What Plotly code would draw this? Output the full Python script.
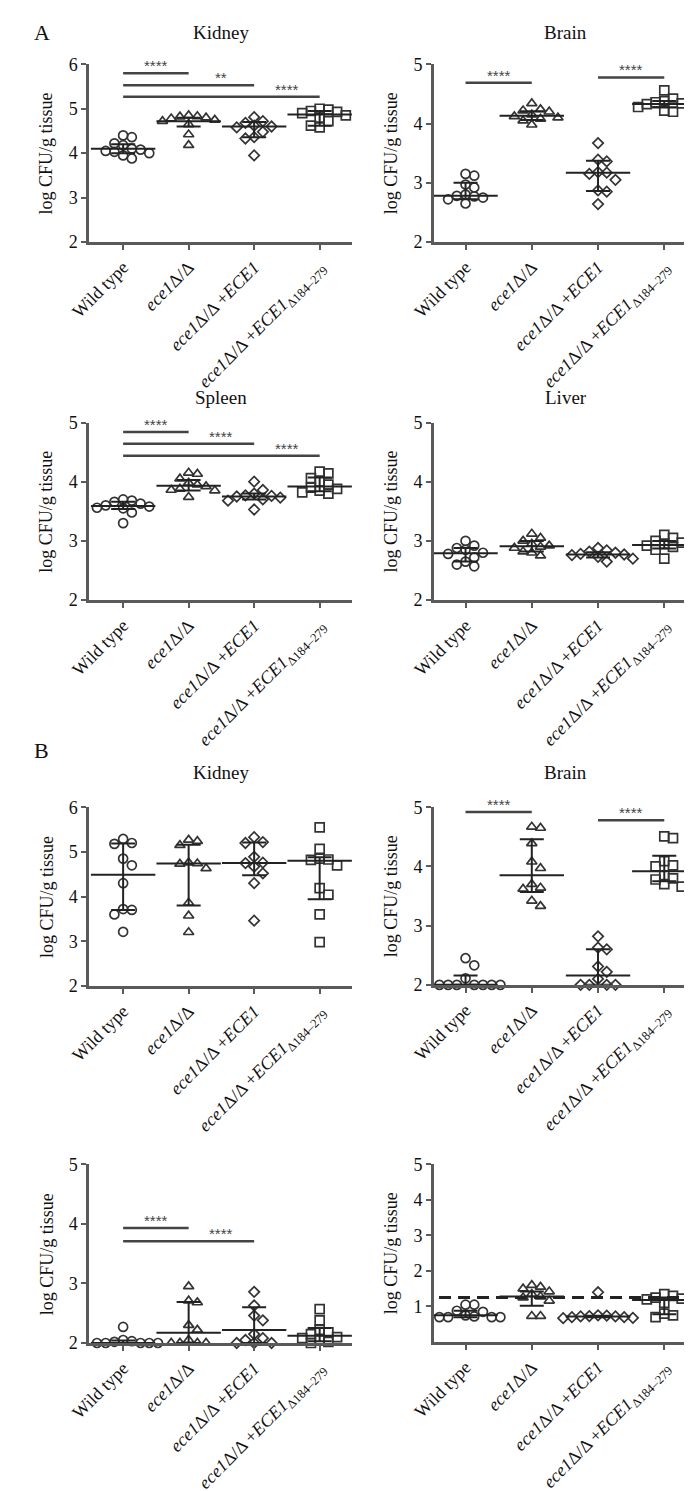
import plotly.graph_objects as go

W, H = 692, 1491

# ---------------- data ----------------
group_labels = ["Wild type", "<i>ece1</i>Δ/Δ", "<i>ece1</i>Δ/Δ +<i>ECE1</i>",
                "<i>ece1</i>Δ/Δ +<i>ECE1</i><sub>Δ184–279</sub>"]

# Panel A – Kidney
a_kidney_wt = [4.40, 4.36, 4.22, 4.18, 4.10, 4.08, 4.05, 4.03, 4.00, 3.95, 3.88]
a_kidney_ko = [4.85, 4.83, 4.82, 4.80, 4.78, 4.75, 4.72, 4.65, 4.42, 4.18]
a_kidney_re = [4.81, 4.72, 4.68, 4.62, 4.60, 4.58, 4.48, 4.36, 4.33, 3.95]
a_kidney_dl = [5.00, 4.98, 4.95, 4.93, 4.90, 4.85, 4.80, 4.72, 4.62, 4.58]
a_kidney_med = [4.10, 4.72, 4.60, 4.87]
a_kidney_q1 = [4.00, 4.60, 4.36, 4.62]
a_kidney_q3 = [4.20, 4.80, 4.70, 4.95]
a_kidney_sig = [(0, 1, 5.80, "****"), (0, 2, 5.53, "**"), (0, 3, 5.27, "****")]

# Panel A – Brain
a_brain_wt = [3.15, 3.12, 2.97, 2.92, 2.80, 2.78, 2.77, 2.75, 2.72, 2.65]
a_brain_ko = [4.34, 4.24, 4.22, 4.20, 4.15, 4.12, 4.10, 4.08, 4.05, 3.98]
a_brain_re = [3.67, 3.39, 3.36, 3.18, 3.17, 3.15, 3.05, 2.87, 2.85, 2.64]
a_brain_dl = [4.56, 4.42, 4.38, 4.36, 4.34, 4.33, 4.30, 4.28, 4.22, 4.20]
a_brain_med = [2.78, 4.13, 3.17, 4.33]
a_brain_q1 = [2.72, 4.06, 2.86, 4.27]
a_brain_q3 = [3.00, 4.21, 3.37, 4.38]
a_brain_sig = [(0, 1, 4.69, "****"), (2, 3, 4.78, "****")]

# Panel A – Spleen
a_spleen_wt = [3.70, 3.68, 3.66, 3.63, 3.60, 3.58, 3.56, 3.55, 3.48, 3.30]
a_spleen_ko = [4.15, 4.13, 4.05, 3.98, 3.95, 3.92, 3.88, 3.86, 3.85, 3.74]
a_spleen_re = [4.00, 3.86, 3.80, 3.77, 3.76, 3.75, 3.73, 3.70, 3.68, 3.53]
a_spleen_dl = [4.17, 4.14, 4.06, 4.00, 3.95, 3.90, 3.88, 3.85, 3.82, 3.80]
a_spleen_med = [3.59, 3.93, 3.75, 3.92]
a_spleen_q1 = [3.54, 3.85, 3.70, 3.84]
a_spleen_q3 = [3.66, 4.03, 3.80, 4.07]
a_spleen_sig = [(0, 1, 4.84, "****"), (0, 2, 4.64, "****"), (0, 3, 4.44, "****")]

# Panel A – Liver
a_liver_wt = [3.00, 2.92, 2.88, 2.85, 2.80, 2.78, 2.72, 2.65, 2.60, 2.57]
a_liver_ko = [3.12, 3.05, 3.00, 2.95, 2.92, 2.90, 2.88, 2.82, 2.80, 2.75]
a_liver_re = [2.88, 2.84, 2.82, 2.80, 2.78, 2.77, 2.76, 2.73, 2.70, 2.65]
a_liver_dl = [3.10, 3.05, 3.00, 2.97, 2.95, 2.92, 2.90, 2.88, 2.85, 2.70]
a_liver_med = [2.79, 2.91, 2.77, 2.93]
a_liver_q1 = [2.65, 2.82, 2.72, 2.87]
a_liver_q3 = [2.88, 3.00, 2.81, 3.00]
a_liver_sig = []

# Panel B – Kidney
b_kidney_wt = [5.29, 5.20, 5.18, 4.85, 4.70, 4.30, 3.72, 3.70, 3.60, 3.21]
b_kidney_ko = [5.27, 5.24, 5.15, 4.76, 4.74, 4.73, 4.63, 3.86, 3.57, 3.20]
b_kidney_re = [5.33, 5.22, 5.20, 4.89, 4.76, 4.75, 4.67, 4.52, 4.30, 3.46]
b_kidney_dl = [5.55, 5.07, 4.85, 4.83, 4.82, 4.70, 4.19, 4.04, 3.60, 2.98]
b_kidney_med = [4.49, 4.74, 4.75, 4.80]
b_kidney_q1 = [3.70, 3.80, 4.48, 3.94]
b_kidney_q3 = [5.19, 5.16, 5.21, 4.88]
b_kidney_sig = []

# Panel B – Brain
b_brain_wt = [2.45, 2.33, 2.11, 2.00, 2.00, 2.00, 2.00, 2.00, 2.00, 2.00]
b_brain_ko = [4.67, 4.65, 4.39, 4.08, 3.97, 3.70, 3.64, 3.62, 3.42, 3.33]
b_brain_re = [2.82, 2.63, 2.60, 2.31, 2.22, 2.10, 2.00, 2.00, 2.00, 2.00]
b_brain_dl = [4.51, 4.48, 4.09, 4.02, 4.00, 3.85, 3.80, 3.78, 3.70, 3.66]
b_brain_med = [2.00, 3.85, 2.16, 3.92]
b_brain_q1 = [2.00, 3.57, 2.00, 3.75]
b_brain_q3 = [2.16, 4.46, 2.60, 4.18]
b_brain_sig = [(0, 1, 4.92, "****"), (2, 3, 4.78, "****")]

# Panel B – Spleen
b_spleen_wt = [2.27, 2.05, 2.03, 2.02, 2.00, 2.00, 2.00, 2.00, 2.00, 2.00]
b_spleen_ko = [2.95, 2.71, 2.68, 2.30, 2.22, 2.05, 2.00, 2.00, 2.00, 2.00]
b_spleen_re = [2.86, 2.63, 2.46, 2.38, 2.15, 2.08, 2.05, 2.00, 2.00, 2.00]
b_spleen_dl = [2.57, 2.38, 2.22, 2.18, 2.15, 2.10, 2.08, 2.05, 2.02, 2.00]
b_spleen_med = [2.00, 2.17, 2.22, 2.12]
b_spleen_q1 = [2.00, 2.00, 2.00, 2.03]
b_spleen_q3 = [2.04, 2.69, 2.60, 2.25]
b_spleen_sig = [(0, 1, 3.93, "****"), (0, 2, 3.71, "****")]

# Panel B – Liver
b_liver_wt = [1.05, 1.05, 0.88, 0.85, 0.75, 0.72, 0.70, 0.70, 0.70, 0.70]
b_liver_ko = [1.60, 1.55, 1.50, 1.42, 1.35, 1.28, 1.25, 1.16, 0.73, 0.73]
b_liver_re = [1.40, 0.75, 0.74, 0.73, 0.72, 0.72, 0.70, 0.70, 0.68, 0.67]
b_liver_dl = [1.35, 1.30, 1.25, 1.22, 1.20, 1.15, 1.10, 0.80, 0.75, 0.70]
b_liver_med = [0.75, 1.28, 0.72, 1.18]
b_liver_q1 = [0.70, 1.02, 0.70, 0.78]
b_liver_q3 = [0.88, 1.42, 0.74, 1.25]
b_liver_sig = []
b_liver_lod = 1.25

# ---------------- layout spec (pixels) ----------------
LEFT_X = (61, 333, -0.52, 3.5)
RIGHT_X = (417, 690, -0.48, 3.51)

panels = [
    dict(groups=[a_kidney_wt, a_kidney_ko, a_kidney_re, a_kidney_dl], med=a_kidney_med,
         q1=a_kidney_q1, q3=a_kidney_q3, sig=a_kidney_sig, xs=LEFT_X, y0=47, y1=227,
         yr=(2, 6), ticks=[2, 3, 4, 5, 6], title="Kidney", title_y=15),
    dict(groups=[a_brain_wt, a_brain_ko, a_brain_re, a_brain_dl], med=a_brain_med,
         q1=a_brain_q1, q3=a_brain_q3, sig=a_brain_sig, xs=RIGHT_X, y0=47, y1=227,
         yr=(2, 5), ticks=[2, 3, 4, 5], title="Brain", title_y=15),
    dict(groups=[a_spleen_wt, a_spleen_ko, a_spleen_re, a_spleen_dl], med=a_spleen_med,
         q1=a_spleen_q1, q3=a_spleen_q3, sig=a_spleen_sig, xs=LEFT_X, y0=410, y1=590,
         yr=(2, 5), ticks=[2, 3, 4, 5], title="Spleen", title_y=385),
    dict(groups=[a_liver_wt, a_liver_ko, a_liver_re, a_liver_dl], med=a_liver_med,
         q1=a_liver_q1, q3=a_liver_q3, sig=a_liver_sig, xs=RIGHT_X, y0=410, y1=590,
         yr=(2, 5), ticks=[2, 3, 4, 5], title="Liver", title_y=385),
    dict(groups=[b_kidney_wt, b_kidney_ko, b_kidney_re, b_kidney_dl], med=b_kidney_med,
         q1=b_kidney_q1, q3=b_kidney_q3, sig=b_kidney_sig, xs=LEFT_X, y0=800, y1=981,
         yr=(2, 6), ticks=[2, 3, 4, 5, 6], title="Kidney", title_y=765),
    dict(groups=[b_brain_wt, b_brain_ko, b_brain_re, b_brain_dl], med=b_brain_med,
         q1=b_brain_q1, q3=b_brain_q3, sig=b_brain_sig, xs=RIGHT_X, y0=800, y1=980,
         yr=(2, 5), ticks=[2, 3, 4, 5], title="Brain", title_y=765),
    dict(groups=[b_spleen_wt, b_spleen_ko, b_spleen_re, b_spleen_dl], med=b_spleen_med,
         q1=b_spleen_q1, q3=b_spleen_q3, sig=b_spleen_sig, xs=LEFT_X, y0=1162, y1=1343,
         yr=(2, 5), ticks=[2, 3, 4, 5], title=None, title_y=None),
    dict(groups=[b_liver_wt, b_liver_ko, b_liver_re, b_liver_dl], med=b_liver_med,
         q1=b_liver_q1, q3=b_liver_q3, sig=b_liver_sig, xs=RIGHT_X, y0=1162, y1=1342,
         yr=(0, 5), ticks=[1, 2, 3, 4, 5], title=None, title_y=None, lod=b_liver_lod),
]

SYMBOLS = ["circle-open", "triangle-up-open", "diamond-open", "square-open"]
SIZES = [9, 9, 8, 9]
FONT = "Liberation Serif"
AXIS_COL = "#5a5a5a"
MARK_COL = "#333333"


def swarm(vals, ppu, ppc, d=8.5, step=9.0):
    """Deterministic beeswarm: returns x offsets (category units)."""
    placed = []
    offs = [0.0] * len(vals)
    order = sorted(range(len(vals)), key=lambda i: -vals[i])
    cands = [0.0]
    for j in range(1, 12):
        cands += [j * step, -j * step]
    for i in order:
        y = vals[i] * ppu
        for c in cands:
            ok = all((c - px) ** 2 + (y - py) ** 2 >= d * d for px, py in placed)
            if ok:
                placed.append((c, y))
                offs[i] = c / ppc
                break
    return offs


fig = go.Figure()
annotations = []
shapes = []

for k, p in enumerate(panels, start=1):
    xa = "x" if k == 1 else f"x{k}"
    ya = "y" if k == 1 else f"y{k}"
    xl, xr, xmin, xmax = p["xs"]
    ppc = (xr - xl) / (xmax - xmin)
    ppu = (p["y1"] - p["y0"]) / (p["yr"][1] - p["yr"][0])

    for g, vals in enumerate(p["groups"]):
        offs = swarm(vals, ppu, ppc)
        fig.add_trace(go.Scatter(
            x=[g + o for o in offs], y=vals, mode="markers", xaxis=xa, yaxis=ya,
            marker=dict(symbol=SYMBOLS[g], size=SIZES[g], color=MARK_COL,
                        line=dict(width=1.7, color=MARK_COL)),
            cliponaxis=False, showlegend=False, hoverinfo="skip"))

    # median with interquartile range
    med = p["med"]
    fig.add_trace(go.Scatter(
        x=list(range(4)), y=med, mode="markers", xaxis=xa, yaxis=ya,
        marker=dict(symbol="line-ew", size=46, color="#222",
                    line=dict(width=2, color="#222")),
        error_y=dict(type="data", symmetric=False,
                     array=[b - a for a, b in zip(med, p["q3"])],
                     arrayminus=[a - b for a, b in zip(med, p["q1"])],
                     width=12, thickness=2, color="#222"),
        cliponaxis=False, showlegend=False, hoverinfo="skip"))

    # significance bars
    for (s, e, yv, lab) in p["sig"]:
        fig.add_trace(go.Scatter(
            x=[s, e], y=[yv, yv], mode="lines", xaxis=xa, yaxis=ya,
            line=dict(color="#444", width=2.5), cliponaxis=False,
            showlegend=False, hoverinfo="skip"))
        annotations.append(dict(
            x=e - 0.5, y=yv, xref=xa, yref=ya, text=lab, showarrow=False,
            yanchor="bottom", yshift=-3,
            font=dict(family="Liberation Sans", size=15, color="#444444")))

    if p.get("lod") is not None:
        shapes.append(dict(type="line", xref=f"{xa} domain", yref=ya,
                           x0=0.02, x1=0.97, y0=p["lod"], y1=p["lod"],
                           line=dict(color="#222", width=3, dash="12px,7px")))

    fig.layout[f"xaxis{'' if k == 1 else k}"] = dict(
        domain=[xl / W, xr / W], range=[xmin, xmax], anchor=ya,
        tickmode="array", tickvals=[0, 1, 2, 3], ticktext=group_labels, tickangle=-45,
        showline=True, linecolor=AXIS_COL, linewidth=2.5, ticks="outside",
        ticklen=5, tickwidth=2, tickcolor=AXIS_COL, showgrid=False, zeroline=False,
        tickfont=dict(family=FONT, size=18, color="#111"), fixedrange=True)
    fig.layout[f"yaxis{'' if k == 1 else k}"] = dict(
        domain=[1 - p["y1"] / H, 1 - p["y0"] / H], range=list(p["yr"]), anchor=xa,
        tickmode="array", tickvals=p["ticks"],
        showline=True, linecolor=AXIS_COL, linewidth=2.5, ticks="outside",
        ticklen=5, tickwidth=2, tickcolor=AXIS_COL, showgrid=False, zeroline=False,
        tickfont=dict(family=FONT, size=18, color="#111"), fixedrange=True)

    # y-axis title
    annotations.append(dict(
        x=(xl - 44) / W, y=1 - (p["y0"] + p["y1"]) / 2 / H, xref="paper", yref="paper",
        text="log CFU/g tissue", textangle=-90, showarrow=False,
        xanchor="center", yanchor="middle", font=dict(family=FONT, size=18, color="#111")))
    if p["title"]:
        annotations.append(dict(
            x=(xl + xr) / 2 / W, y=1 - p["title_y"] / H, xref="paper", yref="paper",
            text=p["title"], showarrow=False, xanchor="center", yanchor="middle",
            font=dict(family=FONT, size=19, color="#111")))

annotations.append(dict(x=2 / W, y=1 - 15 / H, xref="paper", yref="paper", text="A",
                        showarrow=False, xanchor="left", yanchor="middle",
                        font=dict(family=FONT, size=22, color="#111")))
annotations.append(dict(x=2 / W, y=1 - 742 / H, xref="paper", yref="paper", text="B",
                        showarrow=False, xanchor="left", yanchor="middle",
                        font=dict(family=FONT, size=22, color="#111")))

fig.update_layout(width=W, height=H, margin=dict(l=0, r=0, t=0, b=0),
                  paper_bgcolor="white", plot_bgcolor="white",
                  annotations=annotations, shapes=shapes, showlegend=False)

fig.write_html("out.html")
